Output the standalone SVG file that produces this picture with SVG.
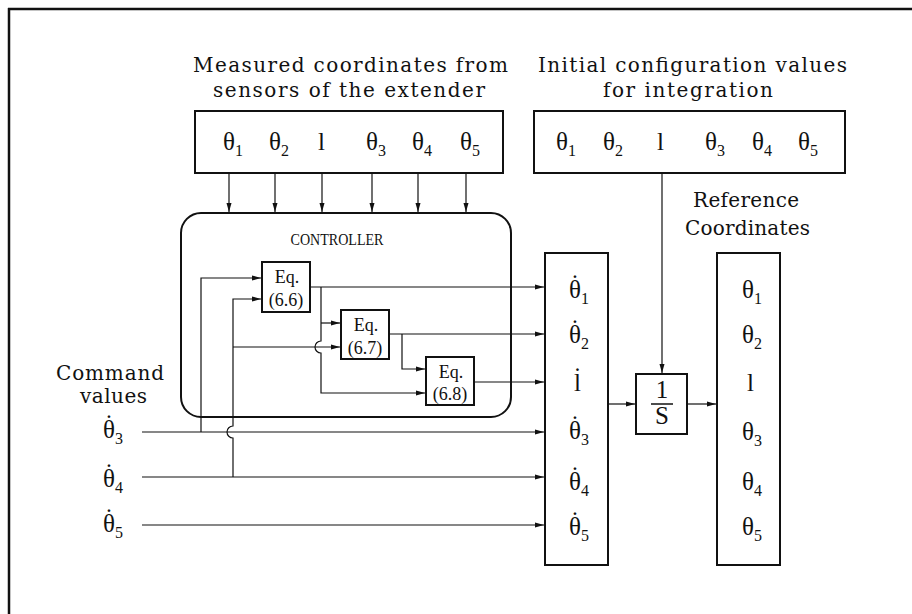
<svg xmlns="http://www.w3.org/2000/svg" width="912" height="614" viewBox="0 0 912 614">
<style>
.box{fill:none;stroke:#111;stroke-width:2}
.ln{fill:none;stroke:#111;stroke-width:1.2}
.ar{marker-end:url(#ah)}
.lab{font-family:"DejaVu Serif","Liberation Serif",serif;font-size:20px;fill:#111}
.m{font-family:"Liberation Serif","DejaVu Serif",serif;font-size:25px;fill:#111}
.sub{font-size:16px}
.eq{font-family:"Liberation Serif","DejaVu Serif",serif;font-size:18px;fill:#111;text-anchor:middle}
.ctl{font-family:"Liberation Serif","DejaVu Serif",serif;font-size:17px;fill:#111;text-anchor:middle}
</style>
<defs>
<marker id="ah" markerUnits="userSpaceOnUse" markerWidth="10" markerHeight="6" refX="9" refY="3" orient="auto">
<path d="M0,0.5 L9,3 L0,5.5 z" fill="#111"/>
</marker>
</defs>
<rect width="912" height="614" fill="#fff"/>
<g id="frame"><path d="M8,9 H912 M9,8 V614" fill="none" stroke="#111" stroke-width="2.5"/></g>

<g id="measured">
<text class="lab" x="193" y="72" textLength="315" lengthAdjust="spacing">Measured coordinates from</text>
<text class="lab" x="213" y="97" textLength="272" lengthAdjust="spacing">sensors of the extender</text>
<rect class="box" x="195" y="111" width="308" height="62"/>
<text class="m" x="223" y="150">θ<tspan class="sub" dy="6">1</tspan></text>
<text class="m" x="269" y="150">θ<tspan class="sub" dy="6">2</tspan></text>
<text class="m" x="318" y="150">l</text>
<text class="m" x="366" y="150">θ<tspan class="sub" dy="6">3</tspan></text>
<text class="m" x="412" y="150">θ<tspan class="sub" dy="6">4</tspan></text>
<text class="m" x="460" y="150">θ<tspan class="sub" dy="6">5</tspan></text>
</g>

<g id="initial">
<text class="lab" x="538" y="72" textLength="309" lengthAdjust="spacing">Initial configuration values</text>
<text class="lab" x="603" y="97" textLength="170" lengthAdjust="spacing">for integration</text>
<rect class="box" x="534" y="111" width="311" height="62"/>
<text class="m" x="556" y="150">θ<tspan class="sub" dy="6">1</tspan></text>
<text class="m" x="603" y="150">θ<tspan class="sub" dy="6">2</tspan></text>
<text class="m" x="657" y="150">l</text>
<text class="m" x="705" y="150">θ<tspan class="sub" dy="6">3</tspan></text>
<text class="m" x="752" y="150">θ<tspan class="sub" dy="6">4</tspan></text>
<text class="m" x="798" y="150">θ<tspan class="sub" dy="6">5</tspan></text>
</g>

<g id="controller">
<rect class="box" x="181" y="213" width="330" height="204" rx="20" ry="20"/>
<text class="ctl" x="337" y="245" textLength="93" lengthAdjust="spacingAndGlyphs">CONTROLLER</text>
</g>
<g id="eq66">
<rect class="box" x="262" y="262" width="48" height="50"/>
<text class="eq" x="287" y="283">Eq.</text>
<text class="eq" x="286" y="306">(6.6)</text>
</g>
<g id="eq67">
<rect class="box" x="341" y="310" width="48" height="49"/>
<text class="eq" x="366" y="331">Eq.</text>
<text class="eq" x="365" y="354">(6.7)</text>
</g>
<g id="eq68">
<rect class="box" x="426" y="357" width="48" height="48"/>
<text class="eq" x="451" y="378">Eq.</text>
<text class="eq" x="450" y="400">(6.8)</text>
</g>

<g id="command">
<text class="lab" x="56" y="380" textLength="108" lengthAdjust="spacing">Command</text>
<text class="lab" x="80" y="403" textLength="67" lengthAdjust="spacing">values</text>
<text class="m" x="103" y="438">θ<tspan class="sub" dy="6">3</tspan><tspan x="104.8" y="432">˙</tspan></text>
<text class="m" x="103" y="487">θ<tspan class="sub" dy="6">4</tspan><tspan x="104.8" y="481">˙</tspan></text>
<text class="m" x="103" y="532">θ<tspan class="sub" dy="6">5</tspan><tspan x="104.8" y="526">˙</tspan></text>
</g>

<g id="rates">
<rect class="box" x="545" y="253" width="63" height="312"/>
<text class="m" x="569" y="298">θ<tspan class="sub" dy="6">1</tspan><tspan x="570.8" y="292">˙</tspan></text>
<text class="m" x="569" y="343">θ<tspan class="sub" dy="6">2</tspan><tspan x="570.8" y="337">˙</tspan></text>
<text class="m" x="574" y="391">l<tspan x="573.3" y="385">˙</tspan></text>
<text class="m" x="569" y="439">θ<tspan class="sub" dy="6">3</tspan><tspan x="570.8" y="433">˙</tspan></text>
<text class="m" x="569" y="490">θ<tspan class="sub" dy="6">4</tspan><tspan x="570.8" y="484">˙</tspan></text>
<text class="m" x="569" y="535">θ<tspan class="sub" dy="6">5</tspan><tspan x="570.8" y="529">˙</tspan></text>
</g>

<g id="integrator">
<rect class="box" x="636" y="374" width="51" height="60"/>
<text class="m" x="662" y="398" text-anchor="middle">1</text>
<line x1="651" y1="404" x2="673" y2="404" stroke="#111" stroke-width="1.5"/>
<text class="m" x="662" y="424" text-anchor="middle">S</text>
</g>

<g id="reference">
<text class="lab" x="693" y="207" textLength="106" lengthAdjust="spacing">Reference</text>
<text class="lab" x="685" y="235" textLength="125" lengthAdjust="spacing">Coordinates</text>
<rect class="box" x="717" y="253" width="63" height="312"/>
<text class="m" x="742" y="298">θ<tspan class="sub" dy="6">1</tspan></text>
<text class="m" x="742" y="343">θ<tspan class="sub" dy="6">2</tspan></text>
<text class="m" x="747" y="391">l</text>
<text class="m" x="742" y="440">θ<tspan class="sub" dy="6">3</tspan></text>
<text class="m" x="742" y="490">θ<tspan class="sub" dy="6">4</tspan></text>
<text class="m" x="742" y="535">θ<tspan class="sub" dy="6">5</tspan></text>
</g>

<g id="connectors">
<path class="ln ar" d="M229,173 V212"/>
<path class="ln ar" d="M275,173 V212"/>
<path class="ln ar" d="M322,173 V212"/>
<path class="ln ar" d="M372,173 V212"/>
<path class="ln ar" d="M418,173 V212"/>
<path class="ln ar" d="M466,173 V212"/>
<path class="ln ar" d="M662,173 V373"/>
<path class="ln ar" d="M310,287 H544"/>
<path class="ln ar" d="M321,287 V341 A6,6 0 0,0 321,353 V393 H425"/>
<path class="ln ar" d="M321,323 H340"/>
<path class="ln ar" d="M233,347 H340"/>
<path class="ln ar" d="M389,334 H544"/>
<path class="ln ar" d="M402,334 V369 H425"/>
<path class="ln ar" d="M474,382 H544"/>
<path class="ln ar" d="M201,432 V278 H261"/>
<path class="ln ar" d="M233,477 V438 A6,6 0 0,1 233,426 V299 H261"/>
<path class="ln ar" d="M142,432 H544"/>
<path class="ln ar" d="M142,477 H544"/>
<path class="ln ar" d="M142,525 H544"/>
<path class="ln ar" d="M608,404 H635"/>
<path class="ln ar" d="M687,404 H716"/>
</g>
</svg>
